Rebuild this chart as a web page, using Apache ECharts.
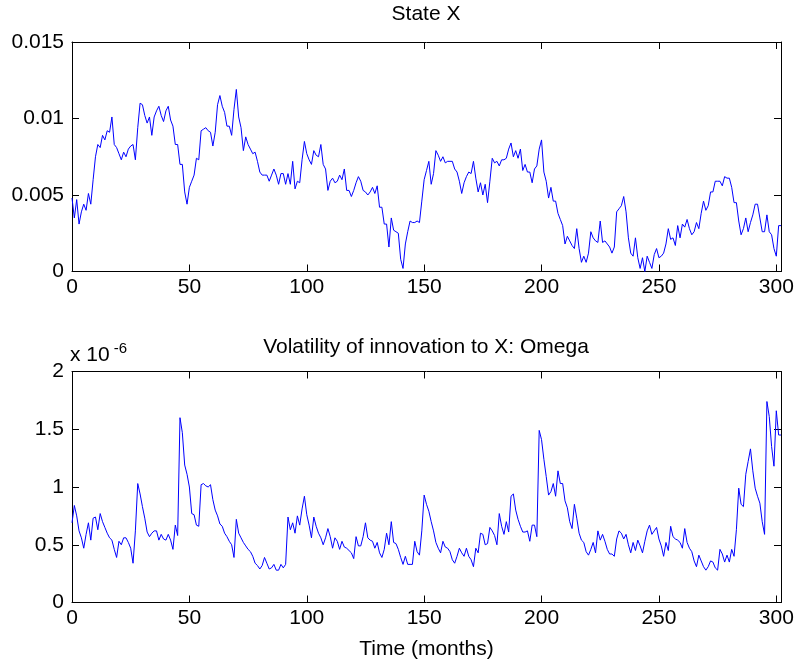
<!DOCTYPE html>
<html>
<head>
<meta charset="utf-8">
<script src="https://cdn.jsdelivr.net/npm/echarts@6/dist/echarts.min.js"></script>
<style>
html,body{margin:0;padding:0;background:#fff;}
#chart{width:800px;height:665px;}
</style>
</head>
<body>
<div id="chart"></div>
<script>
// Month index 0..302
const months = Array.from({length: 303}, (_, i) => i);

// State X, in units of 1e-3
const stateX = [
4.8,3.5,4.7,3.1,3.9,4.4,4.0,5.1,4.4,6.0,
7.5,8.3,8.1,8.9,8.6,9.2,9.1,10.1,8.3,8.1,
7.7,7.3,7.8,7.5,8.0,8.2,8.3,7.3,9.4,11.0,
10.9,10.2,9.7,10.1,8.9,10.1,10.5,10.8,10.2,9.8,
10.5,10.8,9.9,9.5,8.3,8.3,7.0,7.0,5.2,4.4,
5.5,5.9,6.3,7.4,7.3,9.2,9.3,9.4,9.2,9.1,
8.2,9.1,10.9,11.5,10.8,10.4,9.5,9.5,8.9,10.6,
11.9,10.1,9.4,7.9,8.8,8.3,8.0,7.7,7.8,7.2,
6.5,6.3,6.3,6.3,5.9,6.3,6.7,6.3,5.7,6.4,
6.4,5.7,6.4,5.7,7.2,5.4,5.9,5.8,7.3,8.5,
7.7,7.3,7.0,7.9,7.6,7.5,8.3,7.0,6.7,5.3,
5.9,6.1,5.8,5.9,6.3,6.0,6.7,5.3,5.3,4.9,
5.3,5.8,6.2,5.9,5.3,5.2,5.0,5.2,5.5,5.1,
5.6,4.2,4.2,3.1,3.1,1.6,3.5,2.7,2.6,2.5,
0.8,0.2,1.8,2.6,3.3,3.2,3.2,3.3,3.2,4.6,
6.0,6.6,7.2,5.7,6.4,7.9,7.6,7.2,7.5,7.1,
7.2,7.2,7.2,6.7,6.5,5.9,5.1,5.8,6.2,6.5,
6.4,7.2,6.1,5.2,5.8,5.0,5.7,4.5,5.9,7.4,
7.1,7.2,6.9,7.3,7.3,7.4,8.0,8.4,7.5,7.9,
7.4,8.0,6.6,7.0,6.5,6.5,5.8,6.7,6.9,8.0,
8.6,6.5,5.9,4.8,5.5,4.6,4.6,3.8,3.4,3.0,
1.8,2.3,2.0,1.7,1.5,2.8,1.5,0.6,1.0,0.6,
1.2,2.6,2.2,2.0,1.9,3.3,1.9,2.0,1.8,1.6,
1.2,1.6,3.9,4.1,4.3,4.9,3.9,2.2,1.2,1.0,
2.2,0.9,0.2,0.9,0.0,1.0,0.6,0.2,1.1,1.5,
0.9,1.0,1.2,1.8,2.8,2.1,2.2,1.7,3.0,2.2,
3.1,2.9,3.4,2.8,2.4,2.6,3.2,2.8,3.8,4.6,
4.0,4.3,5.2,5.2,5.9,5.9,5.9,5.6,6.2,6.1,
6.1,5.5,4.5,4.5,3.3,2.4,2.8,3.5,2.6,3.2,
3.7,4.4,4.4,3.5,2.6,2.6,3.7,2.6,2.4,1.5,
1.0,3.0,3.0
];

// Omega, in units of 1e-6
const omega = [
0.69,0.84,0.75,0.62,0.56,0.47,0.59,0.69,0.54,0.73,
0.74,0.63,0.77,0.70,0.65,0.60,0.56,0.54,0.46,0.39,
0.53,0.50,0.56,0.56,0.52,0.47,0.34,0.62,1.03,0.94,
0.83,0.73,0.61,0.57,0.60,0.62,0.62,0.54,0.59,0.55,
0.54,0.59,0.54,0.46,0.67,0.58,1.60,1.47,1.19,1.11,
1.00,0.77,0.76,0.67,0.66,1.02,1.03,1.01,1.00,1.02,
0.89,0.80,0.75,0.68,0.66,0.60,0.57,0.53,0.50,0.39,
0.72,0.60,0.56,0.52,0.49,0.46,0.44,0.40,0.34,0.32,
0.29,0.32,0.39,0.34,0.29,0.30,0.33,0.28,0.28,0.33,
0.30,0.33,0.74,0.63,0.69,0.60,0.75,0.67,0.81,0.92,
0.76,0.67,0.56,0.74,0.66,0.60,0.56,0.50,0.56,0.64,
0.57,0.47,0.56,0.53,0.46,0.53,0.48,0.47,0.45,0.43,
0.38,0.57,0.49,0.49,0.57,0.69,0.56,0.54,0.53,0.47,
0.52,0.43,0.39,0.46,0.60,0.50,0.70,0.52,0.51,0.46,
0.39,0.33,0.40,0.33,0.33,0.33,0.53,0.44,0.41,0.62,
0.93,0.85,0.79,0.70,0.62,0.52,0.47,0.43,0.53,0.48,
0.47,0.44,0.37,0.34,0.40,0.47,0.43,0.40,0.47,0.40,
0.37,0.31,0.47,0.43,0.60,0.59,0.50,0.51,0.65,0.62,
0.58,0.50,0.77,0.66,0.59,0.70,0.61,0.92,0.94,0.80,
0.72,0.66,0.61,0.61,0.62,0.53,0.67,0.67,0.57,1.49,
1.41,1.24,1.09,0.93,0.96,1.03,0.92,1.14,1.03,1.03,
0.88,0.82,0.70,0.64,0.85,0.73,0.60,0.54,0.52,0.44,
0.41,0.46,0.52,0.43,0.62,0.54,0.59,0.53,0.46,0.42,
0.42,0.40,0.55,0.62,0.60,0.55,0.59,0.50,0.43,0.52,
0.45,0.54,0.49,0.43,0.53,0.62,0.67,0.59,0.62,0.65,
0.55,0.49,0.40,0.52,0.45,0.66,0.57,0.55,0.54,0.52,
0.47,0.64,0.52,0.47,0.44,0.36,0.31,0.41,0.36,0.31,
0.28,0.31,0.36,0.35,0.30,0.28,0.46,0.42,0.35,0.41,
0.35,0.46,0.40,0.63,0.99,0.85,0.83,1.11,1.22,1.33,
1.14,0.99,0.92,0.86,0.70,0.59,1.74,1.61,1.35,1.18,
1.66,1.45,1.45
];

const xTickLabels = ['0','50','100','150','200','250','300'];
const yTopTickLabels = ['0','0.005','0.01','0.015'];
const yBotTickLabels = ['0','0.5','1','1.5','2'];
const titleTop = 'State X';
const titleBottom = 'Volatility of innovation to X: Omega';
const xName = 'Time (months)';

const FONT = "'Liberation Sans', Arial, Helvetica, sans-serif";
const FS = 21;

const chart = echarts.init(document.getElementById('chart'), null, {renderer: 'canvas'});

function xAxisPair(gi, withName) {
  const fmt = v => {
    const s = String(v);
    return xTickLabels.indexOf(s) >= 0 ? s : '';
  };
  const base = {
    gridIndex: gi, type: 'value', min: 0, max: 302, interval: 50,
    axisLine: {show: true, onZero: false, lineStyle: {color: '#000', width: 1}},
    axisTick: {show: true, inside: true, length: 7, lineStyle: {color: '#000'}},
    splitLine: {show: false}
  };
  const bottom = Object.assign({}, base, {
    position: 'bottom',
    axisLabel: {color: '#000', fontSize: FS, fontFamily: FONT, margin: 5, formatter: fmt, showMaxLabel: true}
  });
  if (withName) {
    Object.assign(bottom, {
      name: xName, nameLocation: 'middle', nameGap: 36,
      nameTextStyle: {color: '#000', fontSize: FS, fontFamily: FONT}
    });
  }
  const top = Object.assign({}, base, {position: 'top', axisLabel: {show: false}});
  return [bottom, top];
}

function yAxisPair(gi, max, interval, labels) {
  const base = {
    gridIndex: gi, type: 'value', min: 0, max: max, interval: interval,
    axisLine: {show: true, onZero: false, lineStyle: {color: '#000', width: 1}},
    axisTick: {show: true, inside: true, length: 7, lineStyle: {color: '#000'}},
    splitLine: {show: false}
  };
  const left = Object.assign({}, base, {
    position: 'left',
    axisLabel: {color: '#000', fontSize: FS, fontFamily: FONT, margin: 8,
      formatter: v => { const i = Math.round(v / interval); return labels[i] !== undefined && Math.abs(v - i*interval) < 1e-9 ? labels[i] : ''; }}
  });
  const right = Object.assign({}, base, {position: 'right', axisLabel: {show: false}});
  return [left, right];
}

const xa0 = xAxisPair(0, false), xa1 = xAxisPair(1, true);
const ya0 = yAxisPair(0, 15, 5, yTopTickLabels), ya1 = yAxisPair(1, 2, 0.5, yBotTickLabels);

const option = {
  backgroundColor: '#fff',
  animation: false,
  grid: [
    {left: 72, top: 42, width: 709, height: 229.5, show: false},
    {left: 72, top: 371.5, width: 709, height: 231, show: false}
  ],
  xAxis: [xa0[0], xa0[1], xa1[0], xa1[1]],
  yAxis: [ya0[0], ya0[1], ya1[0], ya1[1]],
  series: [
    {type: 'line', xAxisIndex: 0, yAxisIndex: 0, showSymbol: false, symbol: 'none',
     lineStyle: {color: '#0000ff', width: 1}, data: months.map((m, i) => [m, stateX[i]])},
    {type: 'line', xAxisIndex: 2, yAxisIndex: 2, showSymbol: false, symbol: 'none',
     lineStyle: {color: '#0000ff', width: 1}, data: months.map((m, i) => [m, omega[i]])}
  ],
  graphic: [
    {type: 'text', x: 426, y: 4, style: {text: titleTop, font: FS + 'px ' + FONT, fill: '#000', textAlign: 'center'}},
    {type: 'text', x: 426, y: 337, style: {text: titleBottom, font: FS + 'px ' + FONT, fill: '#000', textAlign: 'center'}},
    {type: 'text', x: 70, y: 341, style: {
      text: '{a|x 10}{b|-6}', fill: '#000',
      rich: {
        a: {fontSize: FS, fontFamily: FONT, fill: '#000', verticalAlign: 'bottom'},
        b: {fontSize: 15, fontFamily: FONT, fill: '#000', verticalAlign: 'top', padding: [0, 0, 10, 4]}
      }
    }}
  ]
};
chart.setOption(option);
</script>
</body>
</html>
